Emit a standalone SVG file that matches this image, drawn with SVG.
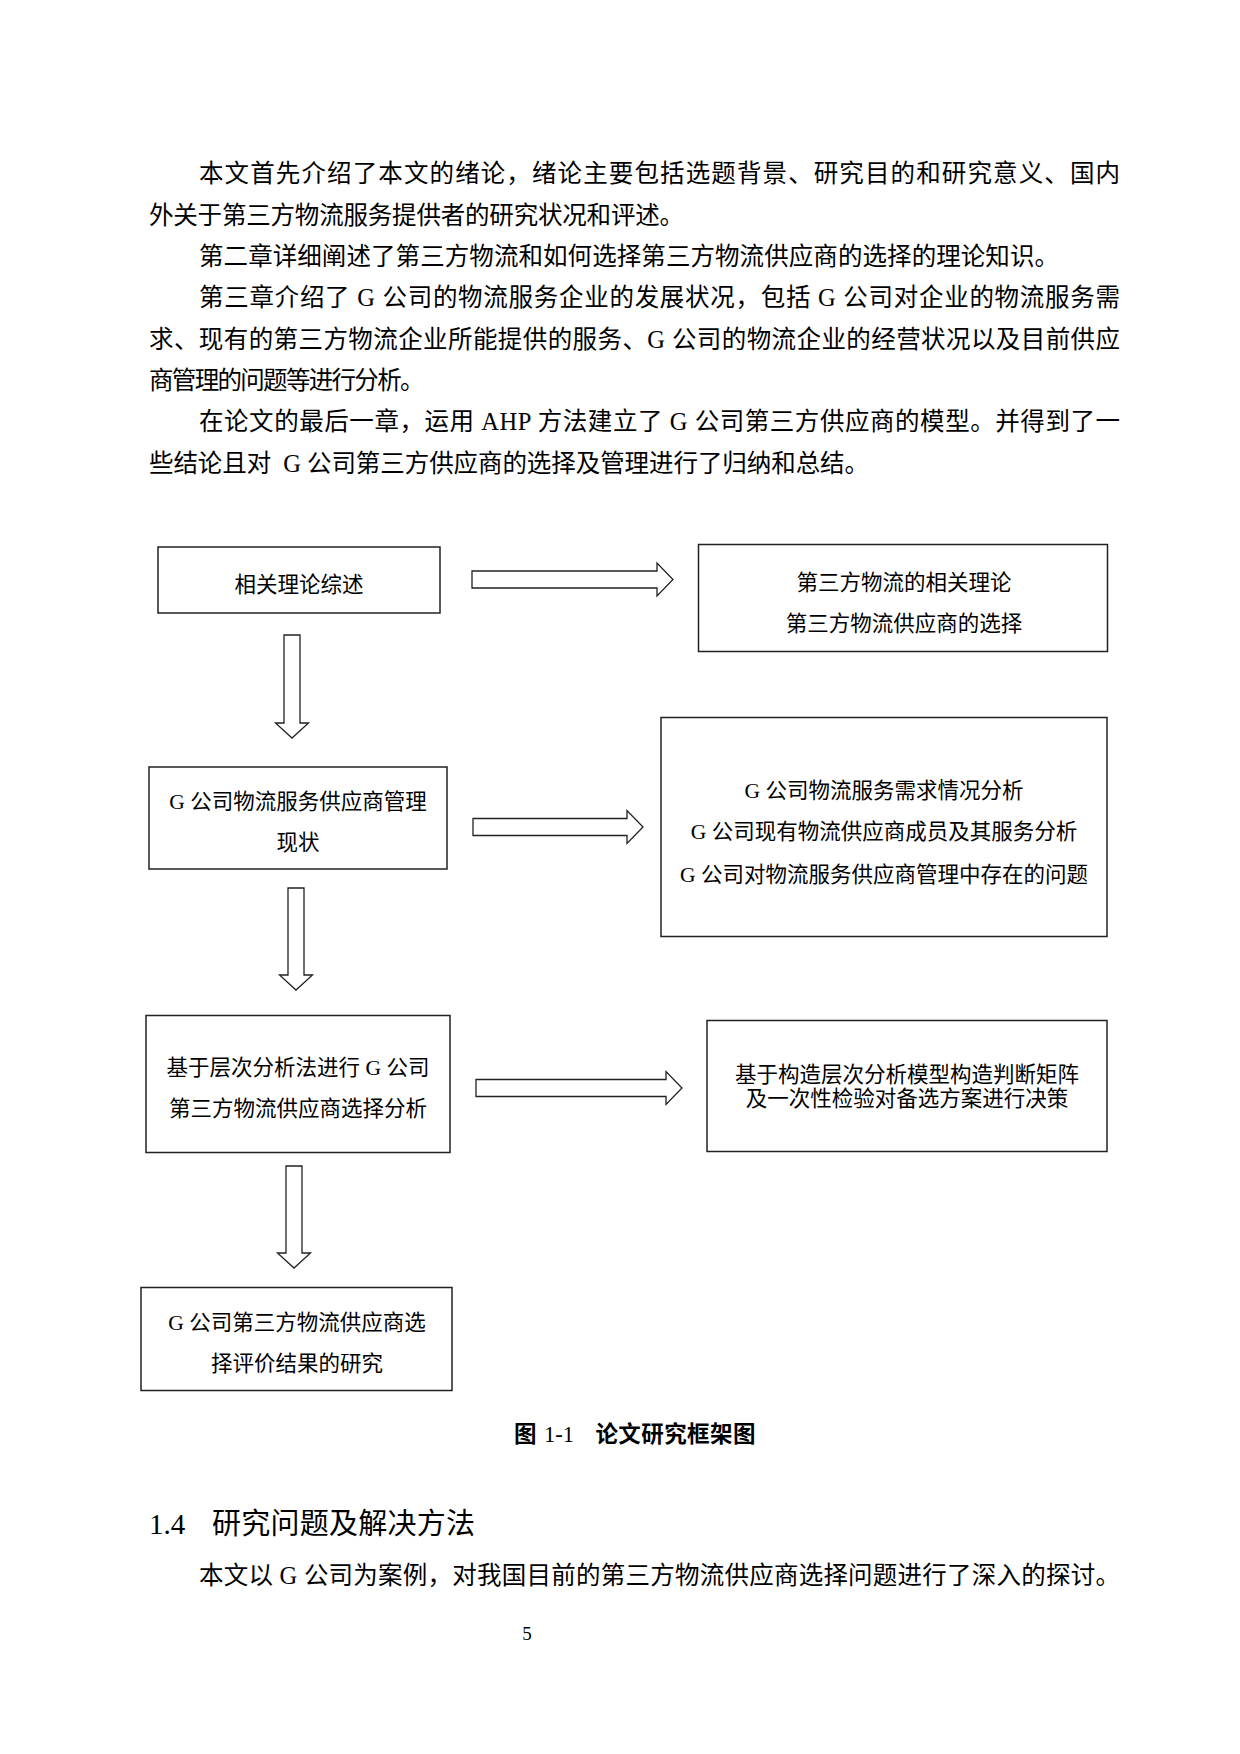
<svg xmlns="http://www.w3.org/2000/svg" width="1240" height="1754" viewBox="0 0 1240 1754">
<style>
.p{font-family:"Liberation Serif","Noto Sans CJK SC",serif;font-size:24.5px;fill:#000}
.b{font-family:"Liberation Serif","Noto Sans CJK SC",serif;font-size:21.5px;fill:#000;text-anchor:middle}
.box{fill:#fff;stroke:#222;stroke-width:1.5}
.arr{fill:#fff;stroke:#222;stroke-width:1.3;stroke-linejoin:miter}
.cap{font-family:"Liberation Serif","Noto Sans CJK SC",serif;font-size:22.5px;fill:#000}
.h{font-family:"Liberation Serif","Noto Sans CJK SC",serif;font-size:29px;fill:#000}
</style>
<rect width="1240" height="1754" fill="#fff"/>
<g id="body-text">
<text class="p" x="199" y="182.4" textLength="921" lengthAdjust="spacing">本文首先介绍了本文的绪论，绪论主要包括选题背景、研究目的和研究意义、国内</text>
<text class="p" x="149" y="223.7" textLength="535" lengthAdjust="spacing">外关于第三方物流服务提供者的研究状况和评述。</text>
<text class="p" x="199" y="265.1" textLength="860" lengthAdjust="spacing">第二章详细阐述了第三方物流和如何选择第三方物流供应商的选择的理论知识。</text>
<text class="p" x="199" y="306.4" textLength="921" lengthAdjust="spacing">第三章介绍了 G 公司的物流服务企业的发展状况，包括 G 公司对企业的物流服务需</text>
<text class="p" x="149" y="347.7" textLength="971" lengthAdjust="spacing">求、现有的第三方物流企业所能提供的服务、G 公司的物流企业的经营状况以及目前供应</text>
<text class="p" x="149" y="389.1" textLength="275.5" lengthAdjust="spacing">商管理的问题等进行分析。</text>
<text class="p" x="199" y="430.4" textLength="921" lengthAdjust="spacing">在论文的最后一章，运用 AHP 方法建立了 G 公司第三方供应商的模型。并得到了一</text>
<text class="p" x="149" y="471.7" textLength="720" lengthAdjust="spacing" xml:space="preserve">些结论且对  G 公司第三方供应商的选择及管理进行了归纳和总结。</text>
</g>
<g id="connectors">
<polygon class="arr" points="472,571 657,571 657,563 673,579.5 657,596 657,588 472,588"/>
<polygon class="arr" points="473,818.5 627,818.5 627,810.5 643,827 627,843.5 627,835.5 473,835.5"/>
<polygon class="arr" points="476,1079.5 666,1079.5 666,1071.5 682,1088 666,1104.5 666,1096.5 476,1096.5"/>
<polygon class="arr" points="284,635 300,635 300,723 308.5,723 292,738 275.5,723 284,723"/>
<polygon class="arr" points="288,888 304,888 304,975 312.5,975 296,990 279.5,975 288,975"/>
<polygon class="arr" points="286,1166 302,1166 302,1253 310.5,1253 294,1268 277.5,1253 286,1253"/>
</g>
<g id="n1">
<rect class="box" x="158" y="547" width="282" height="66"/>
<text class="b" x="299" y="592">相关理论综述</text>
</g>
<g id="n2">
<rect class="box" x="698.5" y="544.5" width="409" height="107"/>
<text class="b" x="904" y="590">第三方物流的相关理论</text>
<text class="b" x="904" y="631">第三方物流供应商的选择</text>
</g>
<g id="n3">
<rect class="box" x="149" y="767" width="298" height="102"/>
<text class="b" x="298" y="809">G 公司物流服务供应商管理</text>
<text class="b" x="298" y="850">现状</text>
</g>
<g id="n4">
<rect class="box" x="661" y="717.5" width="446" height="219"/>
<text class="b" x="884" y="798">G 公司物流服务需求情况分析</text>
<text class="b" x="884" y="839">G 公司现有物流供应商成员及其服务分析</text>
<text class="b" x="884" y="881.5">G 公司对物流服务供应商管理中存在的问题</text>
</g>
<g id="n5">
<rect class="box" x="146" y="1015.5" width="304" height="137"/>
<text class="b" x="298" y="1075">基于层次分析法进行 G 公司</text>
<text class="b" x="298" y="1116">第三方物流供应商选择分析</text>
</g>
<g id="n6">
<rect class="box" x="707" y="1020.5" width="400" height="131"/>
<text class="b" x="907" y="1082">基于构造层次分析模型构造判断矩阵</text>
<text class="b" x="907" y="1106">及一次性检验对备选方案进行决策</text>
</g>
<g id="n7">
<rect class="box" x="141" y="1287.5" width="311" height="103"/>
<text class="b" x="297" y="1330">G 公司第三方物流供应商选</text>
<text class="b" x="297" y="1371">择评价结果的研究</text>
</g>
<g id="caption">
<text class="cap" y="1441.5"><tspan x="514" font-weight="bold">图</tspan><tspan x="544">1-1</tspan><tspan x="595.4" font-weight="bold" textLength="160" lengthAdjust="spacing">论文研究框架图</tspan></text>
</g>
<g id="heading">
<text class="h" y="1533.6"><tspan x="149">1.4</tspan><tspan x="212" textLength="263" lengthAdjust="spacing">研究问题及解决方法</tspan></text>
</g>
<text class="p" x="199" y="1584.3" textLength="921" lengthAdjust="spacing">本文以 G 公司为案例，对我国目前的第三方物流供应商选择问题进行了深入的探讨。</text>
<text x="527" y="1639.5" font-family="Liberation Serif, serif" font-size="19" text-anchor="middle">5</text>
</svg>
